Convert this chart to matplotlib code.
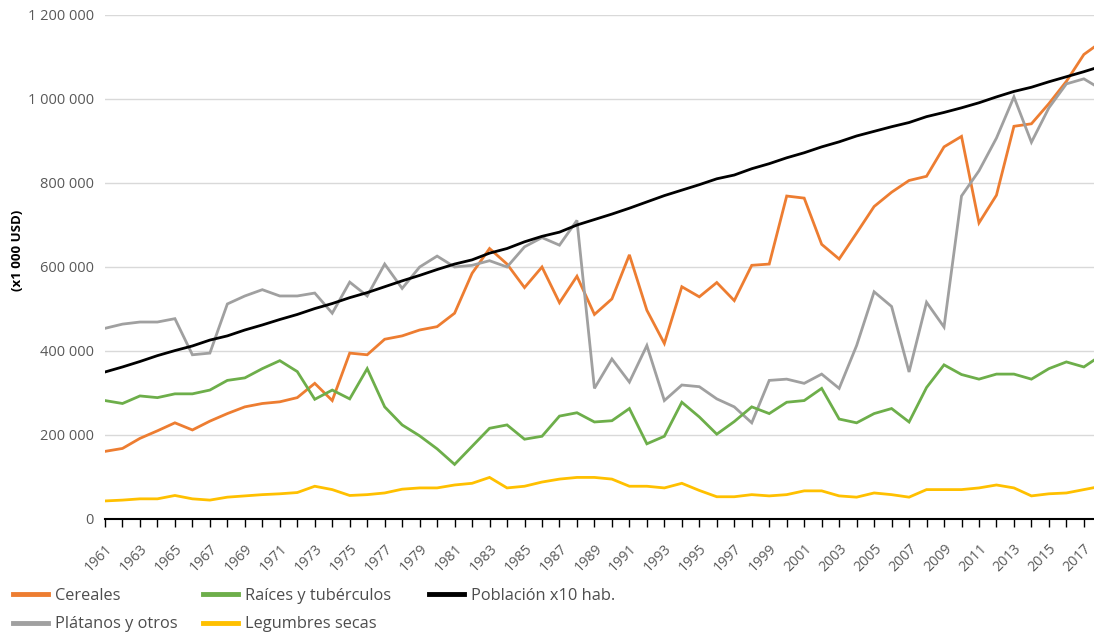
import matplotlib
matplotlib.use("Agg")
import matplotlib.pyplot as plt
from matplotlib.ticker import FuncFormatter, MultipleLocator

plt.rcParams["font.family"] = ["Open Sans", "DejaVu Sans"]

# 1961..2018 (el último año queda cortado en el borde derecho)
years = list(range(1961, 2019))

cereales = [
    161, 168, 192, 210, 229, 212, 233, 251, 267, 275, 279, 289, 323, 282, 395, 391,
    428, 436, 450, 458, 490, 585, 644, 607, 551, 600, 515, 578, 487, 524, 629, 497,
    418, 553, 529, 563, 520, 604, 607, 769, 764, 654, 619, 681, 744, 778, 806, 816,
    886, 911, 705, 771, 935, 941, 989, 1042, 1106, 1136,
]
platanos = [
    454, 464, 469, 469, 477, 391, 395, 512, 531, 546, 531, 531, 538, 490, 564, 531,
    607, 549, 600, 626, 600, 604, 615, 600, 648, 670, 652, 711, 311, 381, 326, 413,
    282, 319, 315, 286, 267, 229, 330, 333, 323, 345, 311, 413, 541, 506, 350, 516,
    457, 769, 829, 907, 1005, 897, 979, 1036, 1048, 1023,
]
raices = [
    282, 275, 293, 289, 298, 298, 307, 330, 336, 358, 377, 351, 285, 307, 286, 358,
    267, 224, 198, 167, 130, 173, 216, 224, 190, 197, 245, 253, 231, 234, 263, 179,
    197, 278, 243, 202, 232, 267, 251, 278, 282, 311, 238, 229, 251, 263, 231, 313,
    367, 344, 333, 345, 345, 333, 358, 374, 362, 390,
]
legumbres = [
    43, 45, 48, 48, 56, 48, 45, 52, 55, 58, 60, 63, 78, 70, 56, 58,
    62, 71, 74, 74, 81, 85, 99, 74, 78, 88, 95, 99, 99, 95, 78, 78,
    74, 85, 68, 53, 53, 58, 55, 58, 67, 67, 55, 52, 62, 58, 52, 70,
    70, 70, 74, 81, 74, 55, 60, 62, 70, 78,
]
poblacion = [
    350, 362, 375, 389, 401, 412, 426, 436, 450, 462, 475, 487, 501, 513, 527, 539,
    553, 567, 580, 594, 607, 617, 633, 644, 660, 673, 683, 700, 713, 726, 740, 755,
    770, 783, 796, 810, 819, 834, 846, 860, 872, 886, 898, 912, 923, 934, 944, 958,
    968, 979, 991, 1005, 1018, 1028, 1041, 1053, 1065, 1078,
]

series = [
    ("Cereales", cereales, "#ED7D31"),
    ("Plátanos y otros", platanos, "#A0A0A0"),
    ("Raíces y tubérculos", raices, "#6DAE4A"),
    ("Legumbres secas", legumbres, "#FFC000"),
    ("Población x10 hab.", poblacion, "black"),
]

fig = plt.figure(figsize=(10.94, 6.36), dpi=100)
ax = fig.add_axes([105 / 1094, 117 / 636, 989 / 1094, 504 / 636])

for name, values, color in series:
    ax.plot(years, [v * 1000 for v in values], color=color, linewidth=2.0,
            label=name, solid_joinstyle="miter")

ax.set_xlim(1961, 2017.58)
ax.set_ylim(0, 1_200_000)

ax.yaxis.set_major_locator(MultipleLocator(200_000))
ax.yaxis.set_major_formatter(FuncFormatter(lambda v, _: f"{v:,.0f}".replace(",", " ")))
ax.grid(axis="y", color="#D9D9D9", linewidth=1.0)
ax.set_axisbelow(True)
ax.tick_params(axis="y", length=0, pad=8, labelsize=10.5, labelcolor="#595959")

ax.set_xticks(years[:-1], minor=True)
ax.set_xticks(years[:-1:2])
ax.set_xticklabels([str(y) for y in years[:-1:2]], rotation=45, ha="right",
                   rotation_mode="anchor")
ax.tick_params(axis="x", which="both", length=6, width=1.0, color="black",
               direction="out")
ax.tick_params(axis="x", labelsize=10.2, labelcolor="#595959", pad=10)

for side in ("left", "right", "top"):
    ax.spines[side].set_visible(False)
ax.spines["bottom"].set_color("black")
ax.spines["bottom"].set_linewidth(1.5)

fig.text(0.016, (636 - 250) / 636, "(x1 000 USD)", rotation=90, ha="center",
         va="center", fontsize=9.5, fontweight="bold")

handles, labels = ax.get_legend_handles_labels()
leg_style = dict(loc="upper left", frameon=False, fontsize=11.8, handlelength=2.15,
                 handletextpad=0.4, labelspacing=0.75, borderaxespad=0, borderpad=0)

leg1 = fig.legend(handles[:4], labels[:4], ncol=2, columnspacing=1.55,
                  bbox_to_anchor=(13 / 1094, 1 - 588 / 636), **leg_style)
leg2 = fig.legend(handles[4:], labels[4:], ncol=1,
                  bbox_to_anchor=(429 / 1094, 1 - 588 / 636), **leg_style)
for leg in (leg1, leg2):
    for t in leg.get_texts():
        t.set_color("#4D4D4D")
    for line in leg.get_lines():
        line.set_linewidth(3.5)

fig.savefig("out.png", dpi=100)
